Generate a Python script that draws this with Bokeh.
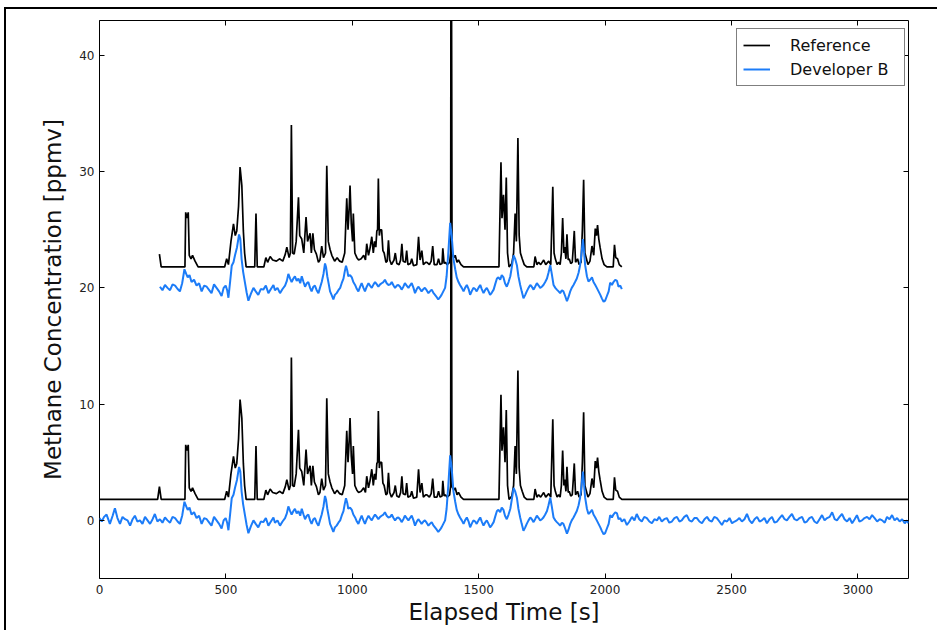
from bokeh.plotting import figure
from bokeh.models import LinearAxis, FixedTicker, Legend, LegendItem, Range1d
from bokeh.embed import file_html
from bokeh.resources import INLINE

# ---- data (lower copy; the chart repeats 236-2068 s shifted by +20 ppmv) ----
ref_t = [0, 230, 237, 244, 338, 341, 346, 351, 355, 362, 368, 378, 390, 495, 503, 510, 520, 530, 537, 543,
         550, 556, 560, 563, 569, 574, 580, 614, 619, 624, 650, 658, 665, 675, 685, 700, 712, 725, 735, 741,
         750, 755, 759, 764, 770, 778, 787, 792, 800, 808, 817, 823, 833, 838, 844, 850, 858, 866, 872, 879,
         886, 894, 899, 905, 912, 919, 930, 940, 950, 960, 970, 975, 978, 983, 988, 991, 996, 1001, 1004, 1010,
         1018, 1025, 1035, 1045, 1052, 1057, 1064, 1070, 1077, 1083, 1088, 1093, 1097, 1100, 1103, 1107, 1110,
         1116, 1121, 1126, 1133, 1138, 1143, 1148, 1155, 1165, 1170, 1176, 1185, 1191, 1196, 1201, 1210, 1215,
         1220, 1230, 1235, 1242, 1255, 1262, 1268, 1275, 1281, 1290, 1295, 1305, 1312, 1318, 1324, 1335, 1341,
         1347, 1355, 1358, 1363, 1368, 1375, 1385, 1389, 1391, 1394, 1402, 1407, 1414, 1420, 1430, 1440, 1580, 1588,
         1592, 1598, 1604, 1609, 1614, 1620, 1631, 1638, 1644, 1649, 1655, 1660, 1665, 1672, 1680, 1690, 1718,
         1723, 1730, 1737, 1745, 1757, 1765, 1777, 1785, 1793, 1798, 1803, 1810, 1816, 1822, 1827, 1832, 1837,
         1840, 1845, 1849, 1854, 1858, 1864, 1870, 1874, 1878, 1883, 1891, 1897, 1905, 1910, 1915, 1920, 1926,
         1932, 1940, 1948, 1955, 1961, 1966, 1970, 1975, 1980, 1988, 1996, 2007, 2032, 2037, 2042, 2049, 2056,
         2066, 3200]
ref_v = [1.8, 1.8, 2.9, 1.8, 1.8, 6.5, 6.0, 6.5, 2.8, 2.5, 2.8, 2.3, 1.8, 1.8, 2.5, 2.0, 4.0, 5.5, 4.5, 4.9,
         7.0, 10.4, 9.5, 8.8, 4.9, 3.0, 1.8, 1.8, 6.4, 1.8, 1.8, 2.6, 2.2, 2.7, 2.4, 2.3, 2.5, 2.3, 2.9, 3.5,
         2.6, 3.0, 14.0, 3.0, 2.9, 4.0, 7.8, 4.5, 4.2, 3.0, 6.1, 4.0, 4.7, 3.0, 4.7, 3.3, 2.9, 2.2, 2.4, 3.6,
         2.6, 3.0, 10.5, 4.0, 3.3, 2.8, 2.3, 2.6, 2.3, 2.2, 3.0, 6.0, 7.7, 5.0, 7.0, 8.8, 5.5, 4.0, 6.4, 3.0,
         2.6, 2.4, 2.5, 2.8, 2.4, 3.8, 2.8, 3.4, 4.4, 3.0, 4.0, 3.5, 4.9, 5.0, 9.4, 4.5, 5.0,
         5.0, 3.2, 3.0, 2.2, 2.3, 4.1, 2.4, 2.0, 2.4, 3.0, 2.1, 2.0, 2.4, 3.8, 2.3, 2.2, 3.2,
         2.0, 2.1, 2.5, 1.9, 2.0, 4.4, 2.4, 3.2, 2.0, 2.2, 2.2, 2.0, 2.3, 3.6, 2.0, 2.0, 2.5,
         2.0, 2.1, 3.4, 2.1, 2.2, 2.0, 2.2, 3.0, 45.0, 2.9, 2.6, 2.8, 2.2, 2.4, 2.0, 1.8, 1.8, 10.8,
         6.0, 8.0, 5.0, 9.5, 3.0, 1.8, 2.1, 3.0, 6.4, 4.0, 12.9, 4.5, 3.0, 2.5, 2.0, 1.8, 1.8,
         2.7, 2.0, 2.2, 2.0, 2.4, 2.0, 2.3, 2.0, 8.7, 3.0, 2.5, 2.0, 2.2, 2.0, 3.0, 6.0, 3.0,
         3.5, 2.5, 4.6, 2.4, 2.5, 2.1, 2.2, 3.5, 4.9, 2.2, 2.5, 2.0, 2.2, 5.0, 9.3, 3.0, 2.5,
         2.0, 2.3, 3.6, 2.8, 5.1, 4.5, 5.4, 4.2, 3.5, 2.5, 2.0, 1.8, 1.8, 3.7, 2.6, 2.5, 2.0,
         1.8, 1.8]

dev_t = [0, 9, 18, 28, 41, 52, 61, 71, 81, 91, 101, 111, 121, 131, 140, 150, 160, 170, 180, 190,
         200, 210, 219, 229, 239, 249, 259, 269, 279, 289, 299, 309, 318, 327, 336, 343, 349, 356, 364, 374,
         384, 394, 404, 414, 424, 434, 443, 453, 463, 473, 483, 491, 499, 505, 510, 517, 523, 530, 536, 544,
         552, 557, 562, 568, 575, 582, 589, 599, 609, 618, 628, 638, 648, 658, 668, 678, 688, 694, 704, 714,
         724, 734, 741, 747, 754, 760, 767, 773, 780, 787, 794, 800, 807, 813, 820, 826, 833, 839, 846, 852,
         859, 866, 872, 879, 886, 892, 896, 901, 907, 912, 918, 925, 931, 938, 945, 952, 958, 965, 970, 975,
         980, 984, 991, 998, 1004, 1011, 1018, 1024, 1031, 1037, 1044, 1050, 1057, 1064, 1070, 1077, 1084, 1090,
         1097, 1103, 1110, 1116, 1123, 1129, 1136, 1143, 1150, 1156, 1163, 1169, 1176, 1182, 1189, 1195, 1202,
         1208, 1215, 1222, 1228, 1235, 1242, 1248, 1255, 1261, 1268, 1274, 1281, 1287, 1294, 1301, 1307, 1314,
         1320, 1327, 1334, 1340, 1347, 1353, 1360, 1367, 1373, 1380, 1387, 1393, 1400, 1407, 1413, 1420, 1426,
         1433, 1440, 1446, 1453, 1460, 1466, 1472, 1479, 1486, 1492, 1499, 1506, 1512, 1519, 1525, 1532, 1539,
         1545, 1552, 1559, 1565, 1572, 1578, 1585, 1591, 1598, 1604, 1611, 1618, 1625, 1631, 1638, 1644, 1651,
         1657, 1664, 1670, 1677, 1684, 1690, 1697, 1704, 1710, 1717, 1723, 1730, 1737, 1743, 1750, 1756, 1763,
         1770, 1776, 1783, 1789, 1796, 1803, 1809, 1816, 1822, 1829, 1835, 1842, 1849, 1855, 1862, 1868, 1875,
         1881, 1888, 1895, 1901, 1907, 1912, 1917, 1921, 1928, 1934, 1941, 1948, 1954, 1961, 1967, 1974, 1981,
         1987, 1994, 2000, 2007, 2014, 2020, 2027, 2033, 2040, 2047, 2053, 2060, 2066, 2076, 2086, 2096, 2106,
         2116, 2125, 2135, 2145, 2155, 2165, 2175, 2185, 2195, 2205, 2214, 2224, 2234, 2244, 2254, 2264, 2274,
         2284, 2294, 2303, 2313, 2323, 2333, 2343, 2353, 2363, 2373, 2383, 2393, 2403, 2412, 2422, 2432, 2442,
         2452, 2462, 2472, 2482, 2492, 2502, 2512, 2521, 2531, 2541, 2551, 2561, 2571, 2581, 2591, 2601, 2611,
         2620, 2630, 2640, 2650, 2660, 2670, 2680, 2690, 2700, 2710, 2719, 2729, 2739, 2749, 2759, 2769, 2779,
         2789, 2798, 2808, 2818, 2828, 2838, 2848, 2858, 2868, 2878, 2888, 2898, 2908, 2917, 2927, 2937, 2947,
         2957, 2967, 2977, 2987, 2996, 3006, 3016, 3026, 3036, 3046, 3056, 3066, 3076, 3086, 3096, 3106, 3115,
         3125, 3135, 3145, 3155, 3165, 3175, 3185, 3194, 3200]
dev_v = [0.2, -0.1, 0.3, 0.5, -0.3, 0.4, 1.05, 0.2, -0.3, 0.3, 0.1, 0.0, -0.45, 0.1, 0.4, -0.1, 0.0, -0.3, 0.3, 0.0,
         -0.3, 0.1, 0.55, -0.1, 0.1, -0.2, 0.25, 0.0, -0.2, 0.3, 0.2, -0.1, -0.3, 0.4, 1.6, 1.2, 0.9, 1.1, 0.5, 0.7,
         0.2, 0.4, -0.3, 0.2, 0.1, -0.2, -0.45, 0.3, 0.0, -0.3, -0.7, 0.0, 0.2, -0.2, -0.85, 0.6, 1.9, 2.2, 2.8, 3.5,
         4.6, 4.2, 2.5, 1.4, 0.5, -0.4, -1.1, -0.5, 0.0, -0.3, -0.6, -0.1, -0.15, 0.2, -0.45, -0.1, 0.25, -0.2, 0.0, -0.45,
         -0.1, 0.2, 0.6, 1.2, 0.8, 0.5, 0.8, 1.0, 0.6, 0.8, 0.4, 1.0, 0.5, 0.1, 0.4, 0.5, 0.0, -0.3, 0.1, 0.2,
         -0.2, -0.45, 0.0, 0.5, 1.2, 2.1, 1.8, 1.0, 0.3, -0.3, -0.6, -1.0, -0.6, -0.45, -0.2, 0.0, 0.4, 0.8, 1.4, 1.9,
         1.5, 1.0, 1.1, 0.9, 0.5, 0.25, -0.1, -0.3, 0.1, 0.4, 0.0, -0.3, 0.1, 0.4, 0.2, 0.0, 0.3, 0.5,
         0.3, 0.1, 0.3, 0.4, 0.5, 0.7, 0.4, 0.25, 0.3, 0.5, 0.2, 0.0, 0.2, 0.25, 0.1, -0.15, 0.1,
         0.4, 0.2, 0.0, 0.2, 0.4, 0.0, -0.45, -0.1, 0.1, -0.1, -0.3, -0.1, 0.0, -0.2, -0.45, -0.3, -0.15,
         -0.4, -0.6, -0.8, -1.0, -0.8, -0.6, -0.3, 0.0, 1.0, 3.1, 5.6, 4.5, 2.5, 1.6, 0.9, 0.5, 0.25,
         0.0, -0.3, 0.0, 0.25, -0.1, -0.6, -0.3, 0.0, -0.1, -0.3, 0.0, 0.25, -0.1, -0.45, -0.2, 0.0, -0.3,
         -0.6, -0.4, -0.15, 0.3, 0.8, 0.9, 0.7, 1.1, 0.9, 0.4, 0.1, 0.5, 1.0, 1.8, 2.8, 2.5, 1.95,
         1.0, 0.25, -0.3, -0.9, -0.6, -0.3, 0.0, 0.25, 0.1, -0.15, 0.1, 0.4, 0.2, 0.0, 0.1, 0.25, 0.5,
         0.8, 1.3, 1.95, 1.2, 0.25, 0.0, -0.15, -0.3, -0.45, -0.2, -0.3, -0.7, -1.15, -0.8, -0.3, 0.0, 0.25,
         0.5, 0.8, 1.3, 1.95, 3.0, 4.2, 3.0, 1.95, 1.0, 0.55, 0.7, 0.9, 0.5, 0.25, 0.0, -0.3, -0.6,
         -0.9, -1.2, -1.1, -0.7, -0.3, 0.45, 0.25, 0.5, 0.7, 0.6, 0.1, 0.2, -0.1, 0.1, -0.4, -0.1, 0.3,
         0.0, 0.55, 0.1, -0.1, 0.3, 0.2, -0.1, -0.25, 0.1, 0.0, 0.3, -0.1, 0.1, 0.2, -0.2, -0.1, 0.2,
         0.3, -0.1, 0.0, 0.3, 0.45, 0.0, -0.1, 0.2, 0.2, -0.1, -0.25, 0.1, 0.3, 0.0, -0.1, 0.3, 0.2,
         -0.1, -0.4, 0.0, -0.1, 0.2, -0.25, -0.1, 0.0, 0.2, -0.1, 0.1, 0.55, 0.0, -0.25, 0.1, 0.3, -0.1,
         0.0, 0.2, -0.25, 0.1, 0.3, -0.2, -0.1, 0.2, 0.45, 0.1, 0.0, 0.3, 0.55, 0.1, 0.0, 0.2, 0.3,
         -0.2, -0.1, 0.2, 0.3, -0.1, -0.25, 0.1, 0.45, 0.0, 0.2, 0.3, 0.7, 0.1, 0.0, 0.3, 0.55, 0.1,
         -0.1, 0.2, -0.25, 0.1, 0.45, -0.1, 0.0, 0.2, 0.3, 0.1, 0.45, 0.2, -0.1, 0.1, 0.0, -0.2, 0.3,
         0.1, 0.45, 0.0, 0.2, -0.1, 0.1, -0.25, 0.0, -0.25, -0.3]

offset = 20.0
upper_start, upper_end = 236, 2068

x_ticks = [0, 500, 1000, 1500, 2000, 2500, 3000]
y_ticks = [0, 10, 20, 30, 40]

ref_col = "black"
dev_col = "#1c7cf8"

ref_up_t = [t for t in ref_t if upper_start <= t <= upper_end]
ref_up_v = [v + offset for t, v in zip(ref_t, ref_v) if upper_start <= t <= upper_end]
dev_up_t = [t for t in dev_t if upper_start <= t <= upper_end]
dev_up_v = [v + offset for t, v in zip(dev_t, dev_v) if upper_start <= t <= upper_end]

p = figure(width=937, height=630, output_backend="svg", toolbar_location=None,
           x_range=Range1d(0, 3200), y_range=Range1d(-5, 43),
           min_border_left=99, min_border_top=20, min_border_right=29, min_border_bottom=52)
# outer picture frame (thin black line at the top and left edges)
p.styles = {"box-shadow": "inset 4px 7px 0 0 white, inset 6px 9px 0 0 black"}
p.background_fill_color = "white"
p.border_fill_color = None
p.outline_line_color = "black"
p.outline_line_width = 1
p.grid.visible = False

font = "'DejaVu Sans', sans-serif"
for ax in (p.xaxis[0], p.yaxis[0]):
    ax.major_tick_in = 5
    ax.major_tick_out = 0
    ax.minor_tick_line_color = None
    ax.axis_line_color = None
    ax.major_label_text_font = font
    ax.major_label_text_font_size = "12px"
    ax.major_label_text_color = "#222222"
    ax.axis_label_text_font = font
    ax.axis_label_text_font_size = "23px"
    ax.axis_label_text_font_style = "normal"
    ax.axis_label_text_color = "#111111"
p.xaxis[0].ticker = FixedTicker(ticks=x_ticks)
p.yaxis[0].ticker = FixedTicker(ticks=y_ticks)
p.xaxis[0].axis_label = "Elapsed Time [s]"
p.yaxis[0].axis_label = "Methane Concentration [ppmv]"
p.xaxis[0].major_label_standoff = 6
p.xaxis[0].axis_label_standoff = 2
p.yaxis[0].major_label_standoff = 5
p.yaxis[0].axis_label_standoff = 10

top_ax = LinearAxis(ticker=FixedTicker(ticks=x_ticks), major_tick_in=5, major_tick_out=0,
                    minor_tick_line_color=None, axis_line_color=None,
                    major_label_text_color=None, major_label_text_font_size="1px", major_label_standoff=0)
right_ax = LinearAxis(ticker=FixedTicker(ticks=y_ticks), major_tick_in=5, major_tick_out=0,
                      minor_tick_line_color=None, axis_line_color=None,
                      major_label_text_color=None, major_label_text_font_size="1px", major_label_standoff=0)
p.add_layout(top_ax, "above")
p.add_layout(right_ax, "right")

r_ref = p.line(ref_t, ref_v, line_color=ref_col, line_width=1.7)
p.line(ref_up_t, ref_up_v, line_color=ref_col, line_width=1.7)
r_dev = p.line(dev_t, dev_v, line_color=dev_col, line_width=2)
p.line(dev_up_t, dev_up_v, line_color=dev_col, line_width=2)

legend = Legend(items=[LegendItem(label="Reference", renderers=[r_ref]),
                       LegendItem(label="Developer B", renderers=[r_dev])],
                location=(637, 492), margin=0)
legend.border_line_color = "black"
legend.border_line_width = 1
legend.background_fill_color = "white"
legend.background_fill_alpha = 1
legend.label_text_font = font
legend.label_text_font_size = "16px"
legend.label_text_color = "#111111"
legend.glyph_width = 27
legend.glyph_height = 20
legend.label_height = 20
legend.label_width = 108
legend.label_standoff = 20
legend.spacing = 4
legend.padding = 6
p.add_layout(legend, "center")

open("out.html", "w").write(file_html(p, INLINE))
